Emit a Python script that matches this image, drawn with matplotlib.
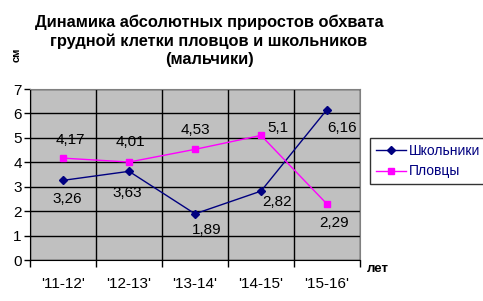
import matplotlib
matplotlib.use("Agg")
import matplotlib.pyplot as plt
import numpy as np

plt.rcParams['font.family'] = ['Liberation Sans', 'DejaVu Sans']

categories = ["'11-12'", "'12-13'", "'13-14'", "'14-15'", "'15-16'"]
schoolboys = [3.26, 3.63, 1.89, 2.82, 6.16]
swimmers = [4.17, 4.01, 4.53, 5.1, 2.29]
school_labels = ["3,26", "3,63", "1,89", "2,82", "6,16"]
swim_labels = ["4,17", "4,01", "4,53", "5,1", "2,29"]

# label offsets (pixels)
school_off = [(4, -19), (-2, -22), (12, -16), (16, -11), (15, -18)]
swim_off = [(7, 18), (1, 20), (0, 19), (17, 7), (7, -19)]

W, H = 483, 301
fig = plt.figure(figsize=(W/100, H/100), dpi=100)
ax = fig.add_axes([30/W, 1-260/H, 330/W, 171/H])
ax.set_facecolor('#C0C0C0')

x = np.arange(len(categories))
ax.set_xlim(-0.5, len(categories)-0.5)
ax.set_ylim(0, 7)
ax.set_yticks(range(0, 8))
ax.set_xticks(x)
ax.set_xticklabels(categories, fontsize=11)
ax.tick_params(axis='x', length=0, pad=12)
ax.set_xticks(np.arange(-0.5, len(categories)), minor=True)
ax.tick_params(axis='x', which='minor', length=5, width=1, direction='out', color='black')
ax.tick_params(axis='y', labelsize=11, length=4, width=1, direction='out', pad=2)
ax.grid(True, axis='y', color='black', linewidth=1)
ax.grid(True, axis='x', which='minor', color='black', linewidth=1)
ax.set_axisbelow(True)
for s in ['top', 'right']:
    ax.spines[s].set_color('#808080')
for s in ['left', 'bottom']:
    ax.spines[s].set_color('black')

ax.plot(x, schoolboys, color='#000080', marker='D', markersize=4, linewidth=1, label='Школьники', clip_on=False)
ax.plot(x, swimmers, color='#FF00FF', marker='s', markersize=4.5, linewidth=1, label='Пловцы', clip_on=False)

for i in range(len(x)):
    ax.annotate(school_labels[i], (x[i], schoolboys[i]), xytext=(school_off[i][0]*0.72, school_off[i][1]*0.72),
                textcoords='offset points', ha='center', va='center', fontsize=11, color='black')
    ax.annotate(swim_labels[i], (x[i], swimmers[i]), xytext=(swim_off[i][0]*0.72, swim_off[i][1]*0.72),
                textcoords='offset points', ha='center', va='center', fontsize=11, color='black')

leg = fig.legend(loc='upper left', bbox_to_anchor=(370/W, 1-138/H), fontsize=10, frameon=True,
                 fancybox=False, edgecolor='black', borderpad=0.4, handlelength=2.2, handletextpad=0.2,
                 labelspacing=0.5, borderaxespad=0)
leg.get_frame().set_linewidth(1)
for t in leg.get_texts():
    t.set_color('#000080')

fig.text(209/W, 1-40.5/H, "Динамика абсолютных приростов обхвата\nгрудной клетки пловцов и школьников\n(мальчики)",
         ha='center', va='center', fontsize=11.8, fontweight='bold', linespacing=1.25)
fig.text(17/W, 1-55/H, "см", rotation=90, ha='center', va='center', fontsize=8, fontweight='bold')
fig.text(378/W, 1-269/H, "лет", ha='center', va='center', fontsize=9.5, fontweight='bold')

fig.savefig('out.png', dpi=100)
